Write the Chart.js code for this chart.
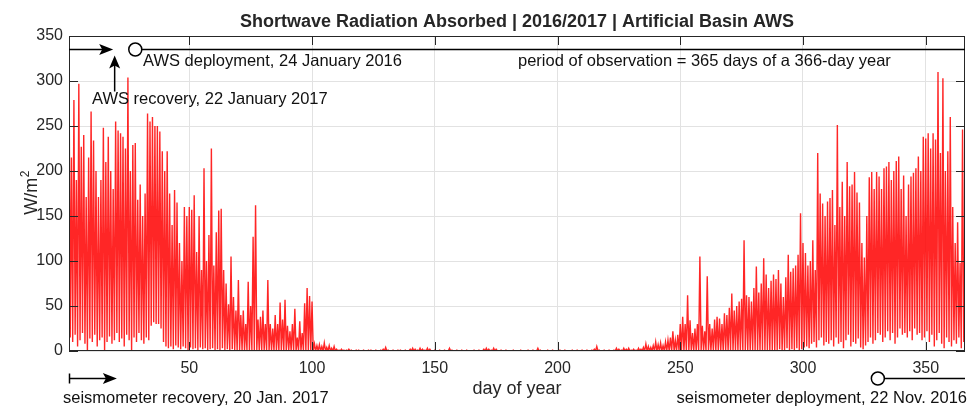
<!DOCTYPE html>
<html lang="en">
<head>
<meta charset="UTF-8">
<title>Shortwave Radiation Absorbed</title>
<script src="https://cdn.jsdelivr.net/npm/chart.js"></script>
<style>
  html, body { margin: 0; padding: 0; background: #fff; }
  .chart-container { position: relative; width: 971px; height: 407px; }
</style>
</head>
<body>
<div class="chart-container">
  <canvas id="myChart" width="971" height="407"></canvas>
</div>
<script>
// daily midday peak of absorbed shortwave (W/m2), day 1 .. 366
const dayPeak = [
  332, 215, 279, 190, 297, 227, 240, 171, 215, 266,
  234, 200, 171, 190, 248, 210, 238, 200, 180, 255,
  245, 242, 238, 225, 304, 200, 229, 231, 168, 185,
  150, 175, 264, 255, 260, 250, 250, 244, 222, 200,
  222, 175, 140, 179, 165, 120, 100, 160, 150, 160,
  157, 173, 110, 150, 90, 203, 100, 129, 225, 95,
  132, 156, 158, 90, 75, 52, 105, 60, 45, 79,
  40, 45, 30, 77, 50, 127, 162, 35, 38, 45,
  30, 79, 30, 25, 40, 30, 54, 35, 57, 28,
  22, 30, 47, 15, 33, 20, 53, 70, 61, 55,
  8, 6, 7, 5, 9, 4, 6, 3, 5, 2,
  1, 2, 1, 1, 2, 1, 0, 1, 1, 0,
  1, 0, 1, 1, 0, 1, 0, 1, 2, 4,
  1, 0, 1, 0, 1, 1, 0, 1, 0, 2,
  3, 2, 1, 3, 2, 1, 3, 2, 0, 1,
  0, 1, 0, 1, 0, 3, 1, 0, 1, 0,
  1, 0, 1, 0, 0, 1, 0, 1, 0, 2,
  3, 2, 1, 3, 2, 0, 1, 0, 1, 0,
  0, 1, 0, 0, 1, 0, 0, 1, 0, 1,
  0, 3, 1, 0, 0, 1, 0, 1, 0, 0,
  1, 0, 1, 0, 0, 1, 0, 1, 0, 1,
  0, 1, 0, 1, 2, 5, 1, 0, 1, 0,
  1, 0, 1, 3, 2, 1, 3, 2, 3, 1,
  2, 1, 3, 2, 4, 8, 5, 4, 6, 10,
  7, 9, 6, 10, 12, 15, 22, 12, 18, 30,
  38, 30, 62, 34, 20, 25, 30, 105, 28, 22,
  83, 30, 25, 35, 38, 36, 30, 42, 40, 48,
  64, 45, 50, 55, 58, 123, 62, 60, 55, 70,
  94, 65, 75, 103, 85, 70, 78, 85, 80, 90,
  75, 60, 82, 107, 88, 92, 95, 107, 153, 120,
  109, 95, 100, 123, 90, 220, 175, 164, 150, 166,
  170, 179, 140, 251, 160, 188, 150, 210, 183, 185,
  199, 176, 165, 120, 104, 150, 193, 199, 180, 199,
  194, 180, 203, 205, 210, 190, 200, 211, 216, 180,
  195, 150, 185, 194, 198, 203, 216, 200, 238, 236,
  242, 225, 242, 235, 310, 220, 303, 200, 222, 260,
  160, 120, 143, 98, 246, 120
];

// night-time minimum of each day
const dayLow = [
  15, 10, 18, 5, 12, 20, 8, 0, 14, 10,
  18, 5, 12, 15, 0, 10, 16, 8, 12, 20,
  10, 14, 5, 18, 12, 0, 15, 10, 20, 12,
  8, 15, 12, 28, 32, 30, 30, 25, 10, 5,
  3, 5, 2, 6, 4, 2, 5, 3, 1, 4,
  2, 3, 1, 4, 2, 3, 1, 2, 3, 1,
  2, 1, 3, 1, 2, 0, 2, 1, 0, 1,
  1, 0, 1, 0, 1, 0, 1, 0, 0, 1,
  0, 0, 0, 0, 0, 0, 0, 0, 0, 0,
  0, 0, 0, 0, 0, 0, 0, 0, 0, 0,
  0, 0, 0, 0, 0, 0, 0, 0, 0, 0,
  0, 0, 0, 0, 0, 0, 0, 0, 0, 0,
  0, 0, 0, 0, 0, 0, 0, 0, 0, 0,
  0, 0, 0, 0, 0, 0, 0, 0, 0, 0,
  0, 0, 0, 0, 0, 0, 0, 0, 0, 0,
  0, 0, 0, 0, 0, 0, 0, 0, 0, 0,
  0, 0, 0, 0, 0, 0, 0, 0, 0, 0,
  0, 0, 0, 0, 0, 0, 0, 0, 0, 0,
  0, 0, 0, 0, 0, 0, 0, 0, 0, 0,
  0, 0, 0, 0, 0, 0, 0, 0, 0, 0,
  0, 0, 0, 0, 0, 0, 0, 0, 0, 0,
  0, 0, 0, 0, 0, 0, 0, 0, 0, 0,
  0, 0, 0, 0, 0, 0, 0, 0, 0, 0,
  0, 0, 0, 0, 0, 0, 0, 0, 0, 0,
  0, 0, 0, 0, 0, 0, 0, 0, 0, 0,
  0, 0, 0, 0, 0, 0, 0, 0, 0, 0,
  0, 0, 0, 0, 0, 0, 0, 0, 0, 0,
  0, 0, 0, 0, 0, 0, 0, 0, 0, 0,
  0, 0, 0, 0, 0, 0, 0, 0, 1, 2,
  0, 1, 3, 0, 2, 1, 3, 0, 2, 4,
  5, 3, 8, 10, 4, 12, 15, 6, 10, 8,
  12, 5, 15, 8, 10, 3, 12, 18, 5, 10,
  8, 14, 4, 2, 6, 10, 15, 8, 12, 20,
  18, 10, 15, 22, 12, 20, 8, 15, 25, 18,
  20, 15, 22, 12, 25, 18, 20, 12, 15, 22,
  10, 18, 5, 12, 20, 8, 3, 15, 10, 5,
  12, 8, 15, 3, 10, 20
];

const xTicks = [50, 100, 150, 200, 250, 300, 350];
const yTicks = [0, 50, 100, 150, 200, 250, 300, 350];

// annotation marks (day of year) and the level of the top bar (W/m2)
const awsArrowTip = 19;
const awsRecoveryMark = 19.6;
const awsDeployMark = 28;
const seisArrowTip = 20.5;
const seisDeployMark = 330.5;
const barLevel = 336;

const ink = '#262626';
const fontFamily = '"Liberation Sans", Arial, Helvetica, sans-serif';

// noon peak then night minimum, day after day
const points = [];
for (let i = 0; i < dayPeak.length; i++) {
    points.push({ x: i + 1, y: dayPeak[i] });
    points.push({ x: i + 1.5, y: dayLow[i] });
}

function line(ctx, x1, y1, x2, y2) {
    ctx.beginPath();
    ctx.moveTo(x1, y1);
    ctx.lineTo(x2, y2);
    ctx.stroke();
}

function arrowRight(ctx, tipX, yy, len, half) {
    ctx.beginPath();
    ctx.moveTo(tipX, yy);
    ctx.lineTo(tipX - len, yy - half);
    ctx.lineTo(tipX - len + 3, yy);
    ctx.lineTo(tipX - len, yy + half);
    ctx.closePath();
    ctx.fill();
}

function arrowUp(ctx, xx, tipY, len, half) {
    ctx.beginPath();
    ctx.moveTo(xx, tipY);
    ctx.lineTo(xx - half, tipY + len);
    ctx.lineTo(xx, tipY + len - 3);
    ctx.lineTo(xx + half, tipY + len);
    ctx.closePath();
    ctx.fill();
}

function circle(ctx, cx, cy, r) {
    ctx.beginPath();
    ctx.arc(cx, cy, r, 0, Math.PI * 2);
    ctx.fillStyle = '#fff';
    ctx.fill();
    ctx.stroke();
    ctx.fillStyle = '#000';
}

const decorations = {
    id: 'decorations',
    afterDraw(chart) {
        const ctx = chart.ctx;
        const a = chart.chartArea;
        const x = chart.scales.x;
        const y = chart.scales.y;
        ctx.save();

        // axes box and inward ticks, MATLAB style
        ctx.strokeStyle = ink;
        ctx.lineWidth = 1;
        ctx.strokeRect(a.left + 0.5, a.top + 0.5, a.right - a.left - 1, a.bottom - a.top - 1);
        xTicks.forEach(v => {
            const px = Math.round(x.getPixelForValue(v)) + 0.5;
            line(ctx, px, a.bottom, px, a.bottom - 9);
            line(ctx, px, a.top, px, a.top + 9);
        });
        yTicks.forEach(v => {
            const py = Math.round(y.getPixelForValue(v)) + 0.5;
            line(ctx, a.left, py, a.left + 9, py);
            line(ctx, a.right, py, a.right - 9, py);
        });

        // title
        ctx.fillStyle = ink;
        ctx.font = 'bold 18px ' + fontFamily;
        ctx.textAlign = 'center';
        ctx.textBaseline = 'alphabetic';
        ctx.fillText('Shortwave Radiation Absorbed | 2016/2017 | Artificial Basin AWS', (a.left + a.right) / 2, 27);

        // axis titles
        ctx.font = '18px ' + fontFamily;
        ctx.fillText('day of year', (a.left + a.right) / 2, 394);

        ctx.save();
        ctx.translate(37, 193);
        ctx.rotate(-Math.PI / 2);
        ctx.textAlign = 'left';
        ctx.font = '18px ' + fontFamily;
        const w1 = ctx.measureText('W/m').width;
        ctx.font = '12px ' + fontFamily;
        const w2 = ctx.measureText('2').width;
        const start = -(w1 + w2) / 2;
        ctx.font = '18px ' + fontFamily;
        ctx.fillText('W/m', start, 0);
        ctx.font = '12px ' + fontFamily;
        ctx.fillText('2', start + w1 + 0.5, -8);
        ctx.restore();

        // AWS period bar across the top
        ctx.strokeStyle = '#000';
        ctx.fillStyle = '#000';
        ctx.lineWidth = 1.5;
        const barY = Math.round(y.getPixelForValue(barLevel)) + 0.5;
        const tipX = x.getPixelForValue(awsArrowTip);
        line(ctx, a.left, barY, tipX - 6, barY);
        arrowRight(ctx, tipX, barY, 14, 5.5);
        const recX = x.getPixelForValue(awsRecoveryMark);
        line(ctx, recX, barY + 42, recX, barY + 14);
        arrowUp(ctx, recX, barY + 6, 13, 5.5);
        const depX = x.getPixelForValue(awsDeployMark);
        line(ctx, depX, barY, a.right, barY);
        circle(ctx, depX, barY, 6.5);

        // seismometer period below the axis
        const sY = 378.5;
        const sTip = x.getPixelForValue(seisArrowTip);
        line(ctx, a.left, sY, sTip - 6, sY);
        line(ctx, a.left + 0.5, sY - 5, a.left + 0.5, sY + 5);
        arrowRight(ctx, sTip, sY, 14, 5.5);
        const sDep = x.getPixelForValue(seisDeployMark);
        line(ctx, sDep, sY, a.right, sY);
        circle(ctx, sDep, sY, 6.5);

        // annotation texts
        ctx.fillStyle = '#111';
        ctx.font = '16.5px ' + fontFamily;
        ctx.textAlign = 'left';
        ctx.fillText('AWS deployment, 24 January 2016', 143, 66);
        ctx.fillText('AWS recovery, 22 January 2017', 92, 104);
        ctx.fillText('period of observation = 365 days of a 366-day year', 518, 66);
        ctx.fillText('seismometer recovery, 20 Jan. 2017', 63, 403);
        ctx.textAlign = 'right';
        ctx.fillText('seismometer deployment, 22 Nov. 2016', 967, 403);

        ctx.restore();
    }
};

const ctx = document.getElementById('myChart').getContext('2d');
const chart = new Chart(ctx, {
    type: 'line',
    data: {
        datasets: [{
            label: 'Shortwave absorbed',
            data: points,
            borderColor: 'rgba(255, 0, 0, 0.85)',
            borderWidth: 1.4,
            pointRadius: 0,
            tension: 0,
            fill: false,
        }]
    },
    options: {
        responsive: false,
        animation: false,
        devicePixelRatio: 1,
        layout: { padding: { left: 0, top: 36, right: 6, bottom: 0 } },
        plugins: {
            legend: { display: false },
            tooltip: { enabled: false },
            title: { display: false },
        },
        scales: {
            x: {
                type: 'linear',
                min: 1,
                max: 366,
                afterBuildTicks: scale => { scale.ticks = xTicks.map(v => ({ value: v })); },
                afterFit: scale => { scale.height = 56; scale.paddingLeft = 0; scale.paddingRight = 0; },
                ticks: {
                    autoSkip: false,
                    maxRotation: 0,
                    padding: 8,
                    color: ink,
                    font: { family: fontFamily, size: 16 },
                },
                grid: { color: '#e2e2e2', drawTicks: false },
                border: { display: false },
            },
            y: {
                min: 0,
                max: 350,
                afterBuildTicks: scale => { scale.ticks = yTicks.map(v => ({ value: v })); },
                afterFit: scale => { scale.width = 69; scale.paddingTop = 0; scale.paddingBottom = 0; },
                ticks: {
                    padding: 6,
                    color: ink,
                    font: { family: fontFamily, size: 16 },
                },
                grid: { color: '#e2e2e2', drawTicks: false },
                border: { display: false },
            }
        }
    },
    plugins: [decorations]
});
</script>
</body>
</html>
